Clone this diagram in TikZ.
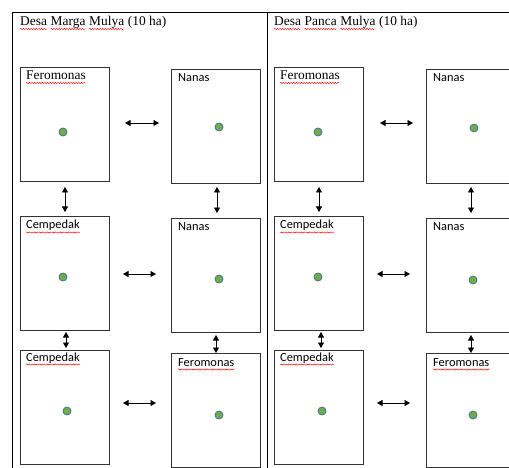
\documentclass[tikz,border=0pt]{standalone}
\usepackage{fontspec}
\setmainfont{Liberation Serif}
\newfontfamily\calib{Carlito}
\usetikzlibrary{arrows.meta,decorations.pathmorphing}
\definecolor{dotgreen}{HTML}{70AD47}
\definecolor{dotblue}{HTML}{41719C}
\newcommand{\tms}{\fontsize{13.4pt}{15pt}\selectfont}
\newcommand{\calf}{\calib\fontsize{12.4pt}{14pt}\selectfont}
\tikzset{
  boxnode/.style={draw=black!80, line width=0.9pt, inner sep=0pt, minimum width=89pt, minimum height=114pt},
  lbl/.style={anchor=base west, inner sep=0pt},
  tlbl/.style={anchor=base west, inner sep=0pt, font=\tms},
  clbl/.style={anchor=base west, inner sep=0pt, font=\calf},
  dotnode/.style={circle, fill=dotgreen, draw=dotblue, line width=0.8pt, minimum size=8pt, inner sep=0pt},
  dbl/.style={{Triangle[length=5.5pt,width=6pt]}-{Triangle[length=5.5pt,width=6pt]}, line width=0.9pt},
  tline/.style={line width=0.9pt},
  wavy/.style={red, line width=0.45pt, decorate, decoration={snake, segment length=2.6pt, amplitude=0.6pt}}
}
\begin{document}
\begin{tikzpicture}[x=1pt,y=-1pt]
\clip (0,0) rectangle (509,468);
\fill[white] (0,0) rectangle (509,468);
% table lines
\draw[tline] (12,468) -- (12,12) -- (509,12);
\draw[tline] (267,12) -- (267,468);
% titles
\node[tlbl] (t1a) at (20,26) {Desa};
\node[tlbl] (t1b) at ([xshift=3.35pt]t1a.base east) {Marga};
\node[tlbl] (t1c) at ([xshift=3.35pt]t1b.base east) {Mulya};
\node[tlbl] (t1d) at ([xshift=3.35pt]t1c.base east) {(10 ha)};
\node[tlbl] (t2a) at (274,26) {Desa};
\node[tlbl] (t2b) at ([xshift=3.35pt]t2a.base east) {Panca};
\node[tlbl] (t2c) at ([xshift=3.35pt]t2b.base east) {Mulya};
\node[tlbl] (t2d) at ([xshift=3.35pt]t2c.base east) {(10 ha)};
% left column boxes
\node[boxnode] (LA1) at (64.5,124) {};
\node[boxnode] (LB1) at (216,126) {};
\node[boxnode] (LA2) at (64.5,273) {};
\node[boxnode] (LB2) at (216,275) {};
\node[boxnode] (LA3) at (64.5,407) {};
\node[boxnode] (LB3) at (216,410) {};
% right column boxes
\node[boxnode] (RA1) at (318.5,124) {};
\node[boxnode] (RB1) at (471,126) {};
\node[boxnode] (RA2) at (318.5,273) {};
\node[boxnode] (RB2) at (471,275) {};
\node[boxnode] (RA3) at (318.5,407) {};
\node[boxnode] (RB3) at (471,410) {};
% labels left
\node[tlbl] (LA1t) at (26,80) {Feromonas};
\node[clbl] (LB1t) at (178,82) {Nanas};
\node[clbl] (LA2t) at (26,229) {Cempedak};
\node[clbl] (LB2t) at (178,230) {Nanas};
\node[clbl] (LA3t) at (26,361) {Cempedak};
\node[clbl] (LB3t) at (178,366) {Feromonas};
% labels right
\node[tlbl] (RA1t) at (280,80) {Feromonas};
\node[clbl] (RB1t) at (433,82) {Nanas};
\node[clbl] (RA2t) at (280,229) {Cempedak};
\node[clbl] (RB2t) at (433,230) {Nanas};
\node[clbl] (RA3t) at (280,361) {Cempedak};
\node[clbl] (RB3t) at (433,366) {Feromonas};
% spell-check underlines
\foreach \n in {t1a,t1b,t1c,t2a,t2b,t2c,LA1t,RA1t}{
  \draw[wavy] ([yshift=-3pt]\n.base west) -- ([yshift=-3pt]\n.base east);
}
\foreach \n in {LA2t,LA3t,LB3t,RA2t,RA3t,RB3t}{
  \draw[wavy] ([yshift=-3.5pt]\n.base west) -- ([yshift=-3.5pt]\n.base east);
}
% dots
\node[dotnode] (LA1d) at (63,132) {};
\node[dotnode] (LB1d) at (219,127) {};
\node[dotnode] (LA2d) at (63,277) {};
\node[dotnode] (LB2d) at (219,279) {};
\node[dotnode] (LA3d) at (67,411) {};
\node[dotnode] (LB3d) at (219,415) {};
\node[dotnode] (RA1d) at (318,132) {};
\node[dotnode] (RB1d) at (474,128) {};
\node[dotnode] (RA2d) at (318,277) {};
\node[dotnode] (RB2d) at (473,280) {};
\node[dotnode] (RA3d) at (322,411) {};
\node[dotnode] (RB3d) at (473,415) {};
% arrow endpoints
\coordinate (lh1a) at (125,123); \coordinate (lh1b) at (159,123);
\coordinate (lh2a) at (123,274); \coordinate (lh2b) at (156,274);
\coordinate (lh3a) at (123,403); \coordinate (lh3b) at (156,403);
\coordinate (lv1a) at (65,187);  \coordinate (lv1b) at (65,212);
\coordinate (lv2a) at (217,187); \coordinate (lv2b) at (217,213);
\coordinate (lv3a) at (66,332);  \coordinate (lv3b) at (66,348);
\coordinate (lv4a) at (216,335); \coordinate (lv4b) at (216,353);
\coordinate (rh1a) at (380,123); \coordinate (rh1b) at (413,123);
\coordinate (rh2a) at (377,274); \coordinate (rh2b) at (410,274);
\coordinate (rh3a) at (377,403); \coordinate (rh3b) at (410,403);
\coordinate (rv1a) at (319,187); \coordinate (rv1b) at (319,212);
\coordinate (rv2a) at (471,187); \coordinate (rv2b) at (471,213);
\coordinate (rv3a) at (321,332); \coordinate (rv3b) at (321,348);
\coordinate (rv4a) at (471,335); \coordinate (rv4b) at (471,353);
\foreach \p in {lh1,lh2,lh3,lv1,lv2,lv3,lv4,rh1,rh2,rh3,rv1,rv2,rv3,rv4}{
  \draw[dbl] (\p a) -- (\p b);
}
\end{tikzpicture}
\end{document}
